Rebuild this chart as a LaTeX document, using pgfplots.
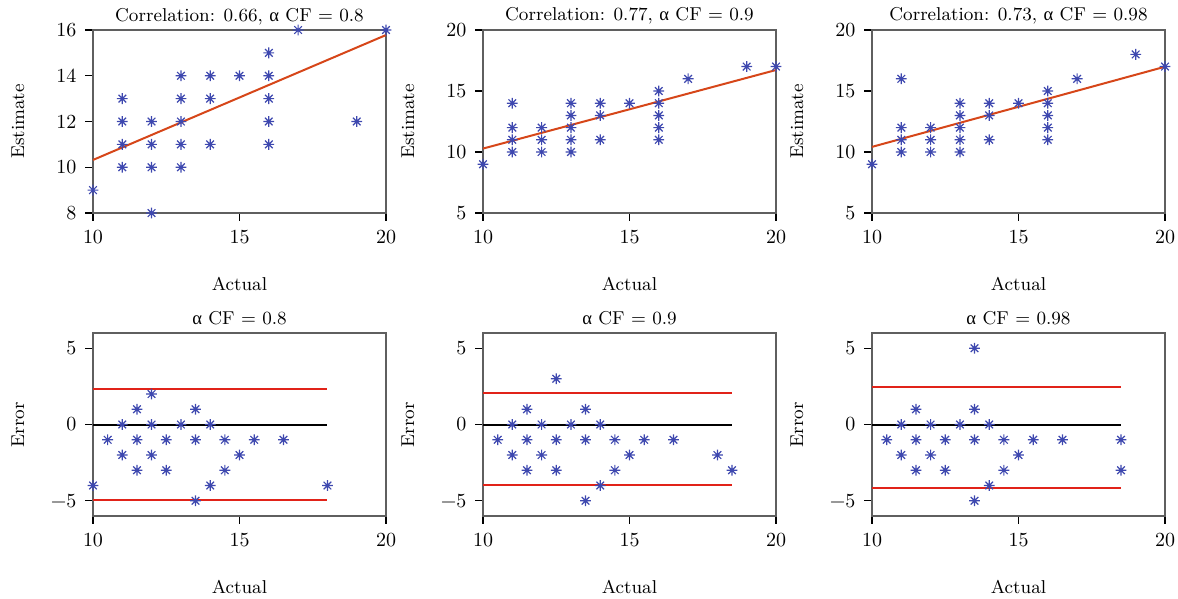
\documentclass[border=0pt]{standalone}
\usepackage{fontspec}
\newfontfamily\grk{Liberation Serif}
\usepackage{pgfplots}
\pgfplotsset{compat=1.18}
\definecolor{mblue}{RGB}{62,72,175}
\definecolor{regred}{RGB}{214,70,25}
\definecolor{limred}{RGB}{225,35,25}
\definecolor{axgray}{RGB}{95,95,95}
\pgfdeclareplotmark{mstar}{%
  \pgfpathmoveto{\pgfqpoint{0pt}{\pgfplotmarksize}}%
  \pgfpathlineto{\pgfqpoint{0pt}{-\pgfplotmarksize}}%
  \pgfpathmoveto{\pgfqpoint{\pgfplotmarksize}{0pt}}%
  \pgfpathlineto{\pgfqpoint{-\pgfplotmarksize}{0pt}}%
  \pgfpathmoveto{\pgfqpoint{.707\pgfplotmarksize}{.707\pgfplotmarksize}}%
  \pgfpathlineto{\pgfqpoint{-.707\pgfplotmarksize}{-.707\pgfplotmarksize}}%
  \pgfpathmoveto{\pgfqpoint{.707\pgfplotmarksize}{-.707\pgfplotmarksize}}%
  \pgfpathlineto{\pgfqpoint{-.707\pgfplotmarksize}{.707\pgfplotmarksize}}%
  \pgfusepathqstroke}
\newcommand{\al}{{\grk α}}
\pgfplotsset{
  every axis title shift=0pt,
  base/.style={
    scale only axis, width=146.5pt, height=91.5pt,
    anchor=north west, clip=false,
    xmin=10, xmax=20, xtick={10,15,20},
    axis line style={axgray, line width=0.7pt},
    tick style={black, line width=0.6pt},
    tick align=outside, xtick pos=left, ytick pos=left,
    major tick length=3.8pt,
    font=\fontsize{9.3}{11}\selectfont,
    tick label style={font=\fontsize{10}{12}\selectfont},
    /pgf/number format/assume math mode=true,
    xticklabel style={yshift=-1.5pt},
    yticklabel style={xshift=-1pt},
    title style={at={(axis description cs:0.5,1)}, anchor=base, yshift=4.5pt},
    xlabel={Actual},
    xlabel style={at={(axis description cs:0.5,-0.426)}, anchor=base},
    ylabel style={at={(axis description cs:-0.256,0.5)}, anchor=center},
  },
  top/.style={base, ylabel={Estimate}},
  bot/.style={base, ylabel={Error}, ymin=-6, ymax=6, ytick={-5,0,5}, yticklabels={−5,0,5}},
  pts/.style={only marks, mark=mstar, mark size=2.7pt, mblue, line width=0.6pt},
  reg/.style={no marks, regred, line width=1pt},
  lim/.style={no marks, limred, line width=1pt},
  zer/.style={no marks, black, line width=1pt},
}
\begin{document}
\begin{tikzpicture}
\useasboundingbox (0,0) rectangle (589pt,-299.5pt);
% ---------- top row ----------
\begin{axis}[top, at={(46.5pt,-15pt)}, ymin=8, ymax=16, ytick={8,10,12,14,16},
  title={Correlation: 0.66, \al{} CF = 0.8}]
\addplot[pts] coordinates {(10,9)
 (11,13)(11,12)(11,11)(11,10)
 (12,12)(12,11)(12,10)(12,8)
 (13,14)(13,13)(13,12)(13,11)(13,10)
 (14,14)(14,13)(14,11)
 (15,14)
 (16,15)(16,14)(16,13)(16,12)(16,11)
 (17,16)(19,12)(20,16)};
\addplot[reg] coordinates {(10,10.32)(20,15.78)};
\end{axis}
\begin{axis}[top, at={(241.5pt,-15pt)}, ymin=5, ymax=20, ytick={5,10,15,20},
  title={Correlation: 0.77, \al{} CF = 0.9}]
\addplot[pts] coordinates {(10,9)
 (11,14)(11,12)(11,11)(11,10)
 (12,12)(12,11)(12,10)
 (13,14)(13,13)(13,12)(13,11)(13,10)
 (14,14)(14,13)(14,11)
 (15,14)
 (16,15)(16,14)(16,13)(16,12)(16,11)
 (17,16)(19,17)(20,17)};
\addplot[reg] coordinates {(10,10.28)(20,16.72)};
\end{axis}
\begin{axis}[top, at={(436pt,-15pt)}, ymin=5, ymax=20, ytick={5,10,15,20},
  title={Correlation: 0.73, \al{} CF = 0.98}]
\addplot[pts] coordinates {(10,9)
 (11,16)(11,12)(11,11)(11,10)
 (12,12)(12,11)(12,10)
 (13,14)(13,13)(13,12)(13,11)(13,10)
 (14,14)(14,13)(14,11)
 (15,14)
 (16,15)(16,14)(16,13)(16,12)(16,11)
 (17,16)(19,18)(20,17)};
\addplot[reg] coordinates {(10,10.42)(20,16.99)};
\end{axis}
% ---------- bottom row ----------
\begin{axis}[bot, at={(46.5pt,-166.5pt)}, title={\al{} CF = 0.8}]
\addplot[lim] coordinates {(10,2.3)(18,2.3)};
\addplot[lim] coordinates {(10,-4.92)(18,-4.92)};
\addplot[zer] coordinates {(10,0)(18,0)};
\addplot[pts] coordinates {(10,-4)(12,2)(11.5,1)(13.5,1)
 (11,0)(12,0)(13,0)(14,0)
 (10.5,-1)(11.5,-1)(12.5,-1)(13.5,-1)(14.5,-1)(15.5,-1)(16.5,-1)
 (11,-2)(12,-2)(15,-2)
 (11.5,-3)(12.5,-3)(14.5,-3)
 (14,-4)(18,-4)(13.5,-5)};
\end{axis}
\begin{axis}[bot, at={(241.5pt,-166.5pt)}, title={\al{} CF = 0.9}]
\addplot[lim] coordinates {(10,2.08)(18.5,2.08)};
\addplot[lim] coordinates {(10,-3.94)(18.5,-3.94)};
\addplot[zer] coordinates {(10,0)(18.5,0)};
\addplot[pts] coordinates {(12.5,3)(11.5,1)(13.5,1)
 (11,0)(12,0)(13,0)(14,0)
 (10.5,-1)(11.5,-1)(12.5,-1)(13.5,-1)(14.5,-1)(15.5,-1)(16.5,-1)
 (11,-2)(12,-2)(15,-2)(18,-2)
 (11.5,-3)(12.5,-3)(14.5,-3)(18.5,-3)
 (14,-4)(13.5,-5)};
\end{axis}
\begin{axis}[bot, at={(436pt,-166.5pt)}, title={\al{} CF = 0.98}]
\addplot[lim] coordinates {(10,2.45)(18.5,2.45)};
\addplot[lim] coordinates {(10,-4.18)(18.5,-4.18)};
\addplot[zer] coordinates {(10,0)(18.5,0)};
\addplot[pts] coordinates {(13.5,5)(11.5,1)(13.5,1)
 (11,0)(12,0)(13,0)(14,0)
 (10.5,-1)(11.5,-1)(12.5,-1)(13.5,-1)(14.5,-1)(15.5,-1)(16.5,-1)(18.5,-1)
 (11,-2)(12,-2)(15,-2)
 (11.5,-3)(12.5,-3)(14.5,-3)(18.5,-3)
 (14,-4)(13.5,-5)};
\end{axis}
\end{tikzpicture}
\end{document}
